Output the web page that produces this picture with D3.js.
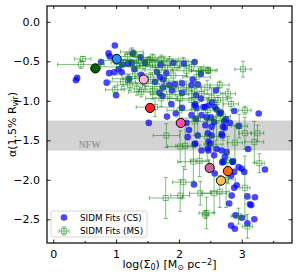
<!DOCTYPE html>
<html>
<head>
<meta charset="utf-8">
<script src="https://cdn.jsdelivr.net/npm/d3@7"></script>
<style>
  body { margin: 0; background: #fff; }
  text { font-family: "DejaVu Sans", sans-serif; }
</style>
</head>
<body>
<div id="chart"></div>
<script>
// ---- data ----
const xTicks = [0, 1, 2, 3];
const xMinor = [0.5, 1.5, 2.5, 3.5];
const yTicks = [0.0, -0.5, -1.0, -1.5, -2.0, -2.5];
const nfwBand = [-1.25, -1.63];

// SIDM fits (CS): [log sigma0, alpha]
const csPoints = [
  [0.36,-0.74],[0.38,-0.71],[0.98,-0.30],[0.88,-0.40],[0.90,-0.44],[0.76,-0.51],[1.10,-0.54],
  [0.89,-0.65],[0.97,-0.64],[1.04,-0.60],[1.09,-0.64],[0.85,-0.77],[1.00,-0.93],[1.19,-0.53],
  [1.27,-0.40],[1.39,-0.45],[1.25,-0.52],[1.46,-0.52],[1.29,-0.60],[1.40,-0.67],[1.21,-0.72],
  [1.52,-1.28],[1.71,-0.54],[1.91,-0.52],[2.08,-0.53],[2.25,-0.51],[1.65,-0.64],[1.80,-0.65],
  [1.70,-0.70],[1.62,-0.76],[1.75,-0.73],[1.85,-0.80],[1.94,-0.79],[1.75,-0.83],[1.89,-0.87],
  [1.69,-0.90],[1.74,-0.94],[2.05,-0.90],[2.22,-0.73],[2.35,-0.66],[2.20,-0.80],[2.30,-0.79],
  [2.27,-0.93],[2.35,-0.97],[2.05,-0.78],[2.59,-0.87],[2.53,-1.02],[1.88,-1.04],[2.05,-1.09],
  [2.25,-1.06],[2.42,-1.08],[2.28,-1.09],[2.60,-1.11],[2.88,-1.13],[3.27,-1.16],[1.81,-1.20],
  [1.95,-1.16],[2.20,-1.18],[2.27,-1.23],[2.36,-1.18],[2.44,-1.21],[2.67,-1.15],[2.75,-1.23],
  [2.12,-1.28],[2.42,-1.31],[2.52,-1.33],[2.70,-1.33],[2.95,-1.32],[2.16,-1.37],[2.14,-1.46],
  [2.26,-1.54],[2.36,-1.63],[2.46,-1.60],[2.47,-1.52],[2.30,-1.44],[2.69,-1.44],[2.46,-1.41],
  [2.47,-1.06],[2.57,-1.08],[2.65,-1.16],[2.51,-1.21],[2.56,-1.27],[2.72,-1.26],[2.81,-1.28],
  [2.73,-1.34],[2.68,-1.42],[2.50,-1.54],[2.52,-1.44],[2.47,-1.63],[2.68,-1.63],[2.76,-1.65],
  [3.10,-1.61],[2.56,-1.69],[2.73,-1.71],[2.85,-1.77],[2.71,-1.77],[2.95,-1.84],[3.00,-1.86],
  [3.37,-1.87],[2.88,-1.90],[3.04,-1.90],[2.57,-1.92],[2.24,-2.06],[2.25,-1.55],[2.60,-1.61],
  [2.69,-1.78],[2.83,-1.95],[2.86,-1.77],[2.92,-2.07],[2.88,-2.10],[2.84,-2.20],[2.80,-2.30],
  [3.09,-2.21],[3.21,-2.22],[3.13,-2.31],[3.15,-2.32],[2.90,-2.45],[3.00,-2.48],[3.20,-2.50],
  [3.09,-2.55],[2.83,-2.58],[2.89,-2.62],[2.26,-1.04],[2.39,-1.08]
];

// SIDM fits (MS): [log sigma0, alpha, x error, y error]
const msPoints = [
  [0.44,-0.54,0.37,0.05],[0.47,-0.47,0.13,0.03],
  [1.00,-0.49,0.25,0.05],[1.05,-0.57,0.30,0.06],[1.12,-0.52,0.20,0.04],[1.18,-0.44,0.22,0.05],
  [1.25,-0.38,0.18,0.05],[1.29,-0.41,0.15,0.04],[1.33,-0.56,0.25,0.06],[1.36,-0.48,0.30,0.05],
  [1.43,-0.56,0.20,0.05],[1.49,-0.51,0.25,0.06],[1.53,-0.49,0.30,0.05],[1.58,-0.45,0.20,0.04],
  [1.62,-0.55,0.25,0.06],[1.68,-0.61,0.22,0.06],[1.72,-0.47,0.28,0.05],[1.78,-0.58,0.24,0.07],
  [1.85,-0.50,0.30,0.06],[1.91,-0.68,0.22,0.08],[1.97,-0.55,0.20,0.06],[2.07,-0.50,0.18,0.05],
  [2.12,-0.62,0.25,0.07],[2.20,-0.57,0.20,0.06],[2.28,-0.70,0.22,0.07],[2.35,-0.62,0.15,0.05],
  [2.46,-0.61,0.15,0.04],[3.02,-0.60,0.13,0.10],
  [0.98,-0.86,0.15,0.05],[1.11,-0.76,0.20,0.06],[1.19,-0.72,0.25,0.05],[1.22,-0.80,0.20,0.07],
  [1.33,-0.85,0.25,0.08],[1.40,-0.89,0.20,0.06],[1.30,-0.66,0.28,0.06],[1.47,-0.78,0.30,0.08],
  [1.55,-0.70,0.25,0.06],[1.58,-0.88,0.22,0.10],[1.65,-0.82,0.20,0.08],[1.72,-0.97,0.25,0.10],
  [1.80,-0.75,0.22,0.07],[1.85,-0.92,0.30,0.10],[1.95,-0.85,0.25,0.09],[2.02,-0.97,0.20,0.10],
  [2.12,-0.83,0.22,0.08],[2.20,-0.99,0.25,0.12],[2.25,-0.88,0.15,0.08],[2.36,-0.91,0.20,0.10],
  [2.45,-0.83,0.18,0.09],[2.52,-0.96,0.25,0.12],[2.62,-0.99,0.15,0.06],[2.65,-0.80,0.15,0.05],
  [2.78,-0.91,0.12,0.06],[2.83,-1.04,0.12,0.08],[2.47,-0.62,0.12,0.03],[3.05,-1.12,0.10,0.05],
  [1.62,-1.08,0.30,0.12],[2.01,-1.12,0.20,0.12],[2.46,-1.12,0.20,0.15],[2.30,-1.22,0.25,0.20],
  [2.25,-1.26,0.20,0.18],[2.60,-1.25,0.15,0.25],[2.96,-1.32,0.13,0.15],[3.05,-1.41,0.10,0.20],
  [3.20,-1.52,0.15,0.26],[3.28,-1.79,0.08,0.12],[2.89,-1.53,0.12,0.22],[2.70,-1.20,0.12,0.30],
  [1.80,-1.44,0.21,0.15],[2.02,-1.58,0.20,0.20],[2.10,-1.57,0.15,0.30],[2.23,-1.77,0.25,0.25],
  [2.33,-1.76,0.15,0.20],[2.45,-1.45,0.18,0.30],[2.55,-1.55,0.15,0.35],[2.78,-1.75,0.12,0.30],
  [3.25,-1.41,0.10,0.10],
  [1.79,-2.23,0.26,0.26],[2.07,-2.03,0.17,0.20],[2.02,-2.20,0.15,0.20],[2.34,-2.17,0.17,0.15],
  [2.42,-2.44,0.05,0.05],[2.56,-2.17,0.20,0.25],[2.65,-2.15,0.15,0.20],[2.44,-2.42,0.12,0.20],
  [3.09,-2.59,0.08,0.15],[2.95,-2.46,0.12,0.10],[3.05,-2.10,0.08,0.40],[2.75,-2.00,0.15,0.35]
];

// highlighted galaxies: [log sigma0, alpha, colour]
const highlightPoints = [
  [0.67,-0.59,"#006400"],
  [1.01,-0.47,"#1e90ff"],
  [1.44,-0.73,"#f7b0e0"],
  [1.54,-1.09,"#ff2020"],
  [2.03,-1.28,"#ff4da6"],
  [2.49,-1.85,"#c86496"],
  [2.78,-1.89,"#ff6a00"],
  [2.67,-2.01,"#ffc34d"]
];

// ---- dimensions ----
const width = 298, height = 277;
const margin = {top: 6, left: 47, right: 6, bottom: 34};
const plotWidth = width - margin.left - margin.right;
const plotHeight = height - margin.top - margin.bottom;

const x = d3.scaleLinear().domain([-0.1, 3.8]).range([0, plotWidth]);
const y = d3.scaleLinear().domain([-2.8, 0.2]).range([plotHeight, 0]);

const svg = d3.select("#chart")
  .append("svg")
  .attr("width", width)
  .attr("height", height);

const g = svg.append("g")
  .attr("transform", `translate(${margin.left},${margin.top})`);

// clip for the marks
g.append("clipPath").attr("id", "plotClip")
  .append("rect").attr("width", plotWidth).attr("height", plotHeight);

// NFW band
g.append("rect")
  .attr("x", 0)
  .attr("width", plotWidth)
  .attr("y", y(nfwBand[0]))
  .attr("height", y(nfwBand[1]) - y(nfwBand[0]))
  .attr("fill", "#d3d3d3");

g.append("text")
  .attr("x", x(0.58))
  .attr("y", y(-1.60))
  .attr("text-anchor", "middle")
  .style("font-family", "'Liberation Serif', serif")
  .style("font-weight", "bold")
  .style("font-size", "9.5px")
  .attr("fill", "#9a9a9a")
  .text("NFW");

const plot = g.append("g").attr("clip-path", "url(#plotClip)");

// CS points
plot.append("g")
  .selectAll("circle")
  .data(csPoints)
  .join("circle")
  .attr("cx", d => x(d[0]))
  .attr("cy", d => y(d[1]))
  .attr("r", 3.3)
  .attr("fill", "blue")
  .attr("fill-opacity", 0.72);

// MS points with error bars
const green = "green";
const msAlpha = 0.5;
const ms = plot.append("g")
  .attr("stroke", green)
  .attr("stroke-opacity", msAlpha)
  .attr("fill", "none")
  .attr("stroke-width", 1);

const msG = ms.selectAll("g")
  .data(msPoints)
  .join("g");

msG.append("line")
  .attr("x1", d => x(d[0] - d[2])).attr("x2", d => x(d[0] + d[2]))
  .attr("y1", d => y(d[1])).attr("y2", d => y(d[1]));
msG.append("line")
  .attr("x1", d => x(d[0])).attr("x2", d => x(d[0]))
  .attr("y1", d => y(d[1] - d[3])).attr("y2", d => y(d[1] + d[3]));
// caps
msG.append("path")
  .attr("d", d => {
    const cx = x(d[0]), cy = y(d[1]);
    const xl = x(d[0] - d[2]), xr = x(d[0] + d[2]);
    const yt = y(d[1] + d[3]), yb = y(d[1] - d[3]);
    return `M${xl},${cy - 2}V${cy + 2}M${xr},${cy - 2}V${cy + 2}` +
           `M${cx - 2},${yt}H${cx + 2}M${cx - 2},${yb}H${cx + 2}`;
  });
msG.append("rect")
  .attr("x", d => x(d[0]) - 2.5)
  .attr("y", d => y(d[1]) - 2.5)
  .attr("width", 5)
  .attr("height", 5);

// highlighted points
plot.append("g")
  .selectAll("circle")
  .data(highlightPoints)
  .join("circle")
  .attr("cx", d => x(d[0]))
  .attr("cy", d => y(d[1]))
  .attr("r", 4.6)
  .attr("fill", d => d[2])
  .attr("stroke", "#000")
  .attr("stroke-width", 1);

// ---- axes ----
const tickFont = "11px";

g.append("g")
  .attr("transform", `translate(0,${plotHeight})`)
  .call(d3.axisBottom(x).tickValues(xTicks).tickFormat(d3.format("d")).tickSizeInner(-3.5).tickSizeOuter(0).tickPadding(7));
g.append("g")
  .attr("transform", `translate(0,${plotHeight})`)
  .call(d3.axisBottom(x).tickValues(xMinor).tickFormat("").tickSizeInner(-2).tickSizeOuter(0));
g.append("g")
  .call(d3.axisTop(x).tickValues(xTicks.concat(xMinor)).tickFormat("").tickSizeInner(-3).tickSizeOuter(0));

g.append("g")
  .call(d3.axisLeft(y).tickValues(yTicks).tickFormat(d => d3.format(".1f")(d).replace("-", "\u2212")).tickSizeInner(-3.5).tickSizeOuter(0).tickPadding(7));
g.append("g")
  .attr("transform", `translate(${plotWidth},0)`)
  .call(d3.axisRight(y).tickValues(yTicks).tickFormat("").tickSizeInner(-3.5).tickSizeOuter(0));

g.selectAll(".domain").remove();
g.selectAll(".tick line").attr("stroke", "#000").attr("stroke-width", 0.9);
g.selectAll(".tick text").style("font-size", tickFont).attr("fill", "#000")
  .style("font-family", "'DejaVu Sans', sans-serif");

// frame
g.append("rect")
  .attr("width", plotWidth)
  .attr("height", plotHeight)
  .attr("fill", "none")
  .attr("stroke", "#000")
  .attr("stroke-width", 1.2);

// axis labels
const xLabel = svg.append("text")
  .attr("x", margin.left + plotWidth / 2)
  .attr("y", 268)
  .attr("text-anchor", "middle")
  .style("font-size", "11px");
xLabel.append("tspan").text("log(\u03A3");
xLabel.append("tspan").attr("baseline-shift", "-25%").style("font-size", "8px").text("0");
xLabel.append("tspan").text(") [M");
xLabel.append("tspan").attr("baseline-shift", "-25%").style("font-size", "8px").text("\u2299");
xLabel.append("tspan").text(" pc");
xLabel.append("tspan").attr("baseline-shift", "40%").style("font-size", "8px").text("\u22122");
xLabel.append("tspan").text("]");

const yLabel = svg.append("text")
  .attr("transform", `translate(16,${margin.top + plotHeight / 2}) rotate(-90)`)
  .attr("text-anchor", "middle")
  .style("font-size", "11px");
yLabel.append("tspan").text("\u03B1(1.5% R");
yLabel.append("tspan").attr("baseline-shift", "-25%").style("font-size", "8px").text("vir");
yLabel.append("tspan").text(")");

// ---- legend ----
const legend = svg.append("g").attr("transform", "translate(51,211)");
legend.append("rect")
  .attr("width", 96)
  .attr("height", 26)
  .attr("rx", 2)
  .attr("fill", "#fff")
  .attr("fill-opacity", 0.8)
  .attr("stroke", "#cccccc")
  .attr("stroke-width", 0.8);

legend.append("circle")
  .attr("cx", 13).attr("cy", 6.5).attr("r", 3.3)
  .attr("fill", "blue").attr("fill-opacity", 0.72);

const lm = legend.append("g")
  .attr("transform", "translate(13,20)")
  .attr("stroke", green).attr("stroke-opacity", msAlpha).attr("fill", "none");
lm.append("path").attr("d", "M-5,0H5M0,-4V4M-5,-2V2M5,-2V2M-2,-4H2M-2,4H2");
lm.append("rect").attr("x", -2.5).attr("y", -2.5).attr("width", 5).attr("height", 5);

legend.selectAll("text.lbl")
  .data(["SIDM Fits (CS)", "SIDM Fits (MS)"])
  .join("text")
  .attr("class", "lbl")
  .attr("x", 29)
  .attr("y", (d, i) => 6.5 + i * 13.5)
  .attr("dy", "0.35em")
  .style("font-size", "8.8px")
  .text(d => d);
</script>
</body>
</html>
